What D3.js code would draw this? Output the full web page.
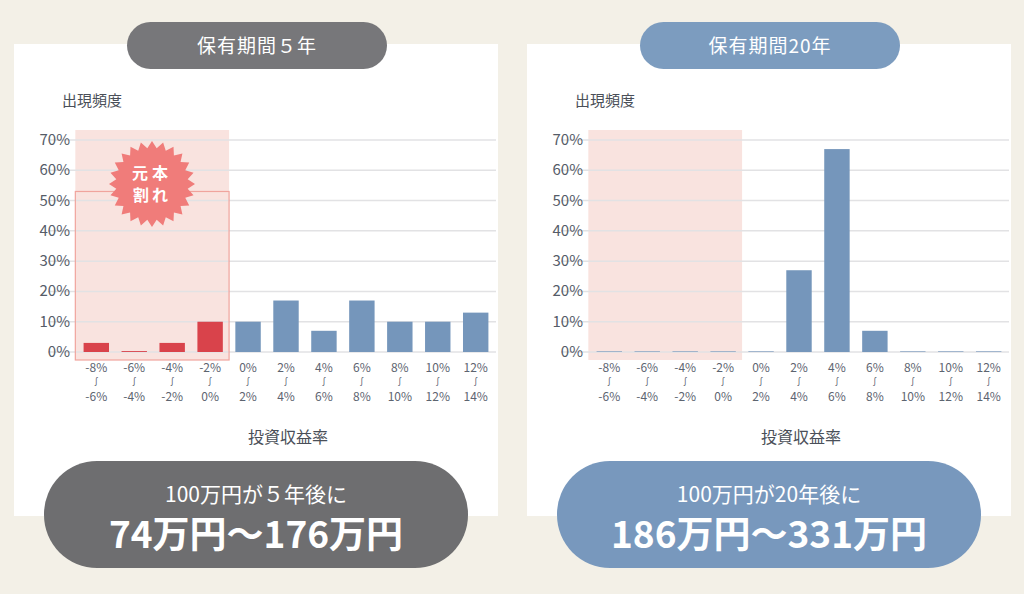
<!DOCTYPE html>
<html><head><meta charset="utf-8">
<script src="https://cdn.jsdelivr.net/npm/d3@7"></script>
<style>body{margin:0;background:#f3f0e7;font-family:"Noto Sans CJK JP","Noto Sans",sans-serif}</style>
</head><body>
<svg id="c" width="1024" height="594"></svg>
<script>
// bins of annual return
var binFrom = ["-8%","-6%","-4%","-2%","0%","2%","4%","6%","8%","10%","12%"];
var binTo   = ["-6%","-4%","-2%","0%","2%","4%","6%","8%","10%","12%","14%"];
var yTicks = [0,10,20,30,40,50,60,70];
// frequency (%) per bin
var freq5  = [3, 0.3, 3, 10, 10, 17, 7, 17, 10, 10, 13];
var freq20 = [0.2, 0.2, 0.2, 0.2, 0.2, 27, 67, 7, 0.2, 0.2, 0.2];
var titles = ["保有期間５年", "保有期間20年"];
var subs = ["100万円が５年後に", "100万円が20年後に"];
var ranges = ["74万円〜176万円", "186万円〜331万円"];

var svg = d3.select("#c");
svg.append("rect").attr("width",1024).attr("height",594).attr("fill","#f3f0e7");

function panel(ox, data, idx) {
    var pill = idx == 0 ? "#77777a" : "#7c9cbf";
    var bottom = idx == 0 ? "#6e6e70" : "#7898bd";
    var g = svg.append("g").attr("transform","translate(" + ox + ",0)");
    g.append("rect").attr("x",14).attr("y",44).attr("width",484).attr("height",472).attr("fill","#fff");

    var x = d3.scaleBand().domain(d3.range(11)).range([76,496]).paddingInner(0.33).paddingOuter(0.2);
    var y = d3.scaleLinear().domain([0,70]).range([352,140]);

    // loss zone
    var x0 = x(0) - x.step()*x.paddingInner()/2 - 2, x1 = x(3) + x.bandwidth() + x.step()*x.paddingInner()/2;
    g.append("rect").attr("x",x0).attr("y",130).attr("width",x1-x0).attr("height",230).attr("fill","#f9e3df");

    g.selectAll(".grid").data(yTicks).enter().append("line")
        .attr("x1",48).attr("x2",496).attr("y1",d=>y(d)).attr("y2",d=>y(d))
        .attr("stroke","#e2e2e4").attr("stroke-width",1.5);
    g.selectAll(".yl").data(yTicks).enter().append("text")
        .attr("x",70).attr("y",d=>y(d)+5).attr("text-anchor","end")
        .attr("font-size",15).attr("fill","#555c68").text(d=>d+"%");

    g.selectAll(".bar").data(data).enter().append("rect")
        .attr("x",(d,i)=>x(i)).attr("width",x.bandwidth())
        .attr("y",d=>y(d)).attr("height",d=>y(0)-y(d))
        .attr("fill",(d,i)=> i<4 && idx==0 ? "#d9434b" : "#7596bb");

    if (idx == 0) {
        g.append("rect").attr("x",x0).attr("y",y(53)).attr("width",x1-x0).attr("height",360-y(53))
            .attr("fill","none").attr("stroke","#f0a49d").attr("stroke-width",1.2);
        var cx = 152, cy = 184, pts = [];
        for (var k = 0; k < 48; k++) {
            var r = k%2 ? 36 : 43, a = k*Math.PI/24;
            pts.push([cx + r*Math.cos(a), cy + r*Math.sin(a)]);
        }
        g.append("polygon").attr("points",pts.map(p=>p.join(",")).join(" ")).attr("fill","#f07c7a");
        g.append("text").attr("x",cx).attr("y",cy-5).attr("text-anchor","middle").attr("font-size",16)
            .attr("font-weight","bold").attr("fill","#fff").attr("letter-spacing",4).text("元本");
        g.append("text").attr("x",cx).attr("y",cy+17).attr("text-anchor","middle").attr("font-size",16)
            .attr("font-weight","bold").attr("fill","#fff").attr("letter-spacing",3).text("割れ");
    }

    var cxs = d3.range(11).map(i => x(i) + x.bandwidth()/2);
    g.selectAll(".xf").data(d3.range(11)).enter().append("text").attr("x",i=>cxs[i]).attr("y",372)
        .attr("text-anchor","middle").attr("font-size",12).attr("fill","#5d6470").text(i=>binFrom[i]);
    g.selectAll(".xs").data(d3.range(11)).enter().append("text").attr("x",i=>cxs[i]).attr("y",385)
        .attr("text-anchor","middle").attr("font-size",9).attr("fill","#5d6470").text("∫");
    g.selectAll(".xt").data(d3.range(11)).enter().append("text").attr("x",i=>cxs[i]).attr("y",401)
        .attr("text-anchor","middle").attr("font-size",12).attr("fill","#5d6470").text(i=>binTo[i]);

    g.append("text").attr("x",62).attr("y",106).attr("font-size",15).attr("fill","#4a4f58").text("出現頻度");
    g.append("text").attr("x",288).attr("y",443).attr("text-anchor","middle").attr("font-size",16).attr("fill","#4a4f58").text("投資収益率");

    g.append("rect").attr("x",127).attr("y",22).attr("width",260).attr("height",47).attr("rx",23.5).attr("fill",pill);
    g.append("text").attr("x",257).attr("y",53).attr("text-anchor","middle").attr("font-size",19)
        .attr("fill","#fff").attr("letter-spacing",1).text(titles[idx]);

    g.append("rect").attr("x",44).attr("y",461).attr("width",424).attr("height",107).attr("rx",53).attr("fill",bottom);
    g.append("text").attr("x",256).attr("y",502).attr("text-anchor","middle").attr("font-size",21)
        .attr("fill","#fff").text(subs[idx]);
    g.append("text").attr("x",256).attr("y",548).attr("text-anchor","middle").attr("font-size",37)
        .attr("font-weight","bold").attr("fill","#fff").text(ranges[idx]);
}
panel(0, freq5, 0);
panel(513, freq20, 1);
</script>
</body></html>
